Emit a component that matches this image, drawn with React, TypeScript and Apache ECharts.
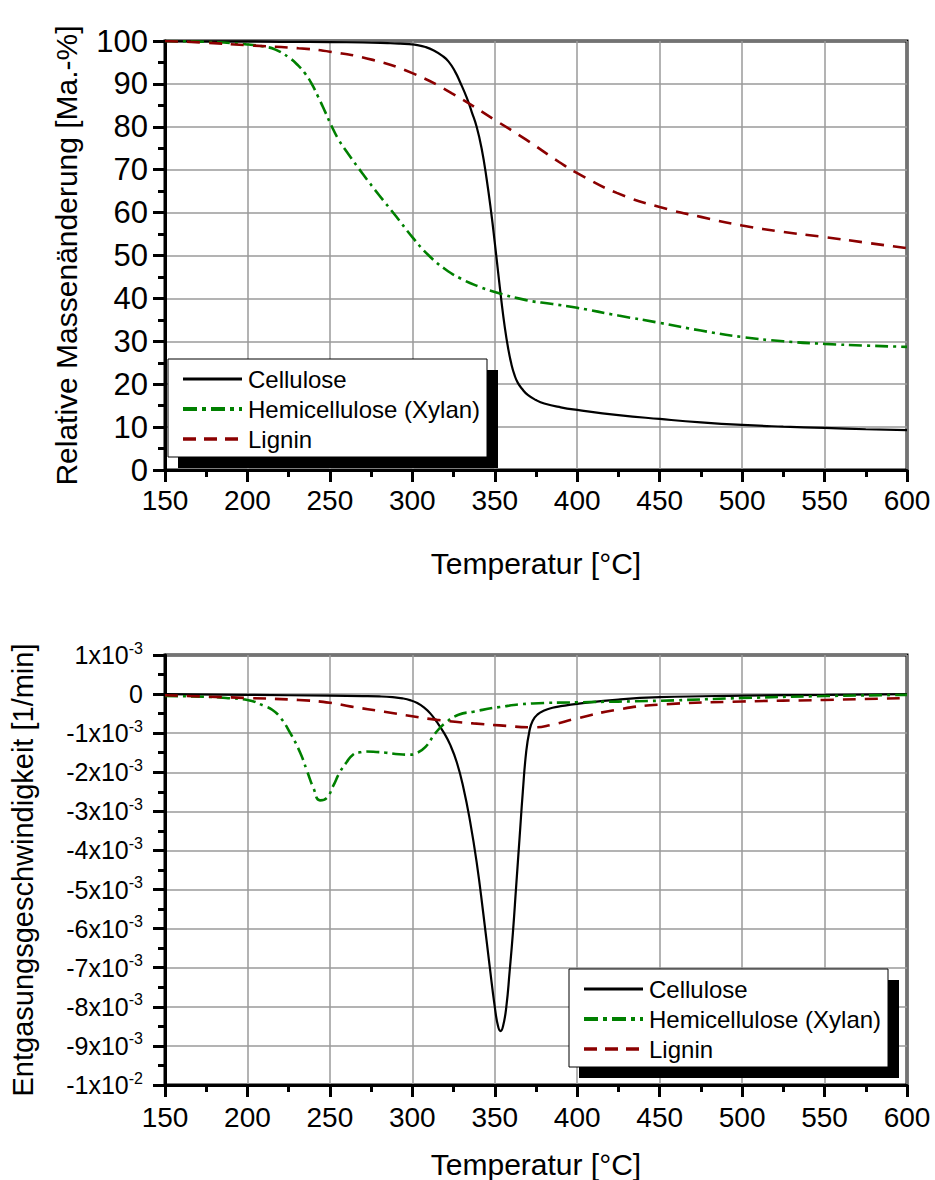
import React, { useEffect, useRef } from 'react';
import * as echarts from 'echarts';

// ---------- Data: TG (relative mass change, Ma.-%) ----------
const tgCelluloseT = [150, 175, 200, 225, 250, 270, 285, 292, 298, 303, 308, 313, 318, 322, 326, 329, 333, 336, 339, 342, 345, 348, 350, 352, 354, 356, 358, 360, 362, 364, 367, 370, 375, 380, 390, 400, 425, 450, 475, 500, 525, 550, 575, 600];
const tgCelluloseV = [100, 99.9, 99.9, 99.8, 99.75, 99.65, 99.5, 99.4, 99.25, 99.05, 98.6, 97.8, 96.6, 95.2, 92.8, 90.4, 86.8, 83.5, 80, 75, 68, 59.5, 53, 46.2, 39.5, 33.5, 28.6, 24.8, 22.1, 20.3, 18.7, 17.5, 16.3, 15.5, 14.6, 14.0, 12.8, 11.9, 11.1, 10.5, 10.1, 9.8, 9.5, 9.3];

const tgHemiT = [150, 175, 200, 210, 217, 225, 231, 235, 239, 243, 247, 251, 255, 260, 270, 280, 290, 300, 310, 320, 330, 340, 350, 369, 385, 400, 425, 450, 475, 500, 525, 550, 575, 600];
const tgHemiV = [100, 99.8, 99.2, 98.7, 98, 96.2, 94.2, 92.4, 90, 86.9, 83.6, 80.2, 77.2, 74.3, 69, 64, 59.2, 54.3, 50, 46.8, 44.5, 42.8, 41.5, 39.6, 38.7, 37.8, 36, 34.3, 32.5, 31, 30, 29.4, 29, 28.7];

const tgLigninT = [150, 175, 200, 231, 250, 276, 300, 324, 350, 369, 389, 400, 424, 450, 475, 500, 525, 550, 575, 600];
const tgLigninV = [100, 99.6, 99.0, 98.3, 97.5, 95.6, 92.5, 87.8, 81.6, 77, 71.8, 69.2, 64.6, 61.3, 59, 57, 55.5, 54.3, 53, 51.7];

// ---------- Data: DTG (devolatilisation rate, in 10^-3 1/min) ----------
const dtgCelluloseT = [150, 200, 250, 270, 280, 288, 294, 299, 303, 307, 311, 315, 319, 323, 327, 331, 335, 339, 343, 347, 350, 352, 353.5, 355, 357, 359, 361, 363, 365, 367, 369, 371, 373, 376, 380, 385, 390, 400, 425, 450, 500, 550, 600];
const dtgCelluloseV = [0, -0.02, -0.04, -0.05, -0.06, -0.08, -0.11, -0.16, -0.23, -0.34, -0.5, -0.72, -0.98, -1.3, -1.75, -2.4, -3.25, -4.3, -5.6, -7.0, -8.0, -8.5, -8.62, -8.5, -8.0, -7.1, -6.1, -4.9, -3.7, -2.5, -1.5, -0.95, -0.68, -0.52, -0.42, -0.35, -0.31, -0.25, -0.14, -0.08, -0.04, -0.02, 0];

const dtgHemiT = [150, 175, 187, 200, 210, 215, 220, 226, 232, 236, 240, 244, 248, 252, 256, 260, 264, 268, 272, 278, 284, 292, 298, 303, 308, 314, 320, 328, 337, 353, 373, 400, 450, 500, 550, 600];
const dtgHemiV = [-0.05, -0.07, -0.1, -0.15, -0.3, -0.4, -0.6, -1.0, -1.5, -1.95, -2.4, -2.72, -2.66, -2.35, -2.0, -1.75, -1.55, -1.49, -1.47, -1.48, -1.5, -1.54, -1.55, -1.5, -1.35, -1.0, -0.74, -0.53, -0.45, -0.33, -0.24, -0.21, -0.17, -0.1, -0.05, -0.02];

const dtgLigninT = [150, 200, 231, 250, 263, 283, 299, 315, 337, 353, 373, 384, 400, 424, 450, 500, 550, 600];
const dtgLigninV = [-0.03, -0.1, -0.15, -0.22, -0.32, -0.45, -0.56, -0.66, -0.75, -0.8, -0.85, -0.79, -0.62, -0.4, -0.27, -0.19, -0.15, -0.1];

const seriesNames = ['Cellulose', 'Hemicellulose (Xylan)', 'Lignin'];

const FONT = "'Liberation Sans', Arial, sans-serif";
const zip = (t: number[], v: number[]) => t.map((x, i) => [x, v[i]]);

const lineStyles = [
  { color: '#000000', width: 2.2, type: 'solid' as any },
  { color: '#008000', width: 2.6, type: [13, 5, 3, 5] as any },
  { color: '#8b0000', width: 2.6, type: [13, 9] as any },
];

function dtgLabel(v: number): string {
  if (Math.abs(v) < 1e-9) return '{b|0}';
  if (v === -10) return '{b|-1x10}{s|-2}';
  return '{b|' + v + 'x10}{s|-3}';
}

function legendGraphics(x0: number, y0: number) {
  const els: any[] = [];
  els.push({ type: 'rect', z: 100, shape: { x: x0 + 10, y: y0 + 11, width: 320, height: 98 }, style: { fill: '#000' } });
  els.push({ type: 'rect', z: 101, shape: { x: x0, y: y0, width: 319, height: 98 }, style: { fill: '#fff', stroke: '#000', lineWidth: 1 } });
  const rows = [20, 50, 80];
  const legendLine = [
    { stroke: '#000', lineWidth: 3 },
    { stroke: '#008000', lineWidth: 4, lineDash: [14, 5, 4, 5] },
    { stroke: '#8b0000', lineWidth: 3.5, lineDash: [13, 8] },
  ];
  rows.forEach((dy, i) => {
    els.push({ type: 'line', z: 102, shape: { x1: x0 + 15, y1: y0 + dy, x2: x0 + 74, y2: y0 + dy }, style: legendLine[i] });
    els.push({ type: 'text', z: 102, x: x0 + 80, y: y0 + dy, style: { text: seriesNames[i], fontSize: 24, fontFamily: FONT, fill: '#000', align: 'left', verticalAlign: 'middle' } });
  });
  return els;
}

export default function App() {
  const ref = useRef<HTMLDivElement>(null);
  useEffect(() => {
    if (!ref.current) return;
    const chart = echarts.init(ref.current, null, { renderer: 'svg' });
    const axisCommon = {
      axisLine: { show: true, onZero: false, lineStyle: { color: '#000', width: 3 } },
      axisTick: { show: true, inside: false, length: 12, lineStyle: { color: '#000', width: 3 } },
      minorTick: { show: true, splitNumber: 2, length: 7, lineStyle: { color: '#000', width: 3 } },
      splitLine: { show: true, lineStyle: { color: '#9a9a9a', width: 1.5 } },
    };
    const xAxisBase = (gridIndex: number, fontSize: number, margin: number, nameGap: number) => ({
      type: 'value', gridIndex, min: 150, max: 600, interval: 50,
      ...axisCommon,
      axisLabel: { fontSize, fontFamily: FONT, color: '#000', margin, showMinLabel: true, showMaxLabel: true },
      name: 'Temperatur [°C]', nameLocation: 'middle', nameGap,
      nameTextStyle: { fontSize: 30, fontFamily: FONT, color: '#000' },
    });
    const option: any = {
      animation: false,
      backgroundColor: '#fff',
      grid: [
        { left: 165, top: 41, width: 742, height: 429, show: true, borderColor: '#000', borderWidth: 3, backgroundColor: 'transparent' },
        { left: 165, top: 655, width: 742, height: 430, show: true, borderColor: '#000', borderWidth: 3, backgroundColor: 'transparent' },
      ],
      xAxis: [xAxisBase(0, 28, 16, 78), xAxisBase(1, 28, 18, 64)],
      yAxis: [
        {
          type: 'value', gridIndex: 0, min: 0, max: 100, interval: 10,
          ...axisCommon,
          axisLabel: { fontSize: 31, fontFamily: FONT, color: '#000', margin: 17 },
          name: 'Relative Massenänderung [Ma.-%]', nameLocation: 'middle', nameGap: 84, nameRotate: 90,
          nameTextStyle: { fontSize: 30, fontFamily: FONT, color: '#000' },
        },
        {
          type: 'value', gridIndex: 1, min: -10, max: 1, interval: 1,
          ...axisCommon,
          axisLabel: {
            fontFamily: FONT, color: '#000', margin: 22,
            formatter: (v: number) => dtgLabel(v),
            rich: {
              b: { fontSize: 25, fontFamily: FONT, color: '#000', lineHeight: 30 },
              s: { fontSize: 16, fontFamily: FONT, color: '#000', lineHeight: 16, verticalAlign: 'top' },
            },
          },
          name: 'Entgasungsgeschwindigkeit [1/min]', nameLocation: 'middle', nameGap: 128, nameRotate: 90,
          nameTextStyle: { fontSize: 29, fontFamily: FONT, color: '#000' },
        },
      ],
      series: [
        { name: seriesNames[0], type: 'line', xAxisIndex: 0, yAxisIndex: 0, data: zip(tgCelluloseT, tgCelluloseV), showSymbol: false, smooth: 0.5, lineStyle: lineStyles[0], z: 3 },
        { name: seriesNames[1], type: 'line', xAxisIndex: 0, yAxisIndex: 0, data: zip(tgHemiT, tgHemiV), showSymbol: false, smooth: 0.5, lineStyle: lineStyles[1], z: 4 },
        { name: seriesNames[2], type: 'line', xAxisIndex: 0, yAxisIndex: 0, data: zip(tgLigninT, tgLigninV), showSymbol: false, smooth: 0.5, lineStyle: lineStyles[2], z: 5 },
        { name: seriesNames[0], type: 'line', xAxisIndex: 1, yAxisIndex: 1, data: zip(dtgCelluloseT, dtgCelluloseV), showSymbol: false, smooth: 0.5, lineStyle: lineStyles[0], z: 3 },
        { name: seriesNames[1], type: 'line', xAxisIndex: 1, yAxisIndex: 1, data: zip(dtgHemiT, dtgHemiV), showSymbol: false, smooth: 0.5, lineStyle: lineStyles[1], z: 4 },
        { name: seriesNames[2], type: 'line', xAxisIndex: 1, yAxisIndex: 1, data: zip(dtgLigninT, dtgLigninV), showSymbol: false, smooth: 0.5, lineStyle: lineStyles[2], z: 5 },
      ],
      graphic: [...legendGraphics(168, 359), ...legendGraphics(569, 969)],
    };
    chart.setOption(option);
    return () => chart.dispose();
  }, []);
  return <div ref={ref} style={{ position: 'absolute', left: 0, top: 0, width: 935, height: 1180, background: '#fff' }} />;
}
